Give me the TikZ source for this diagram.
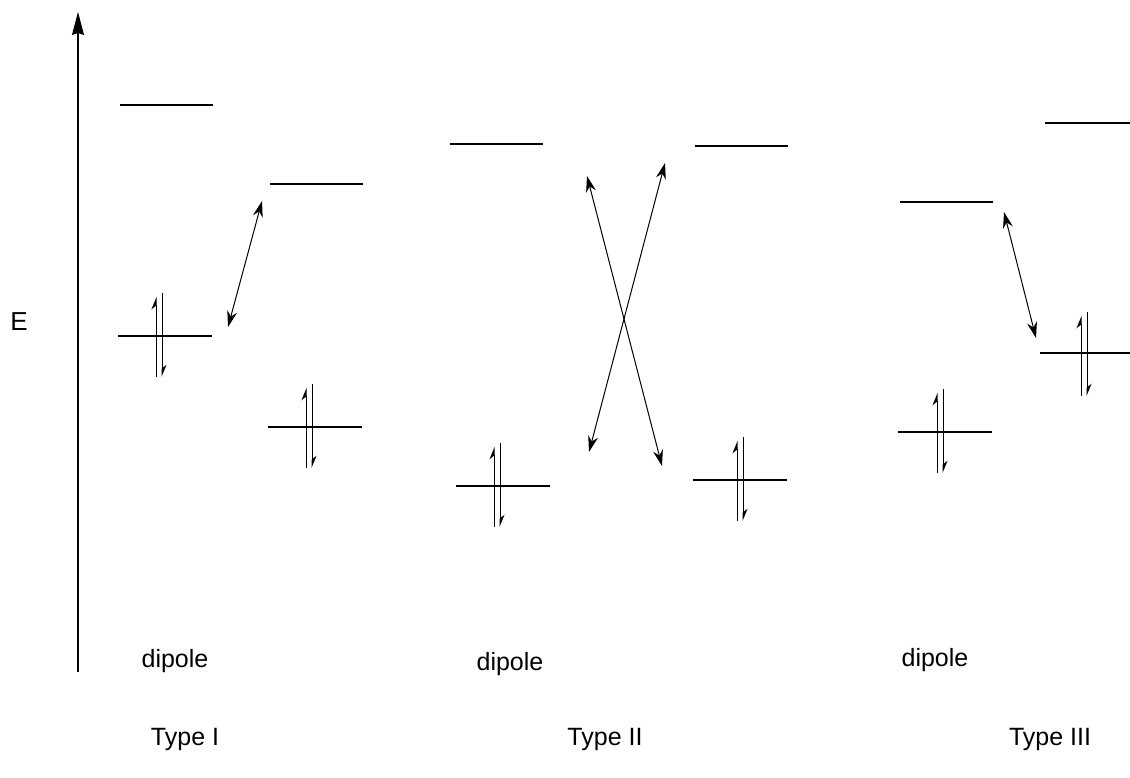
\documentclass[tikz,border=0pt]{standalone}
\usepackage{fontspec}
\setmainfont{Liberation Sans}
\usetikzlibrary{arrows.meta}
\newcommand{\epair}[3]{% name, x of left line, y of level
  \draw[spin] (#2,#3+41) -- (#2,#3-39);
  \draw[spin] (#2+6,#3-43) -- (#2+6,#3+41);
}
\begin{document}
\begin{tikzpicture}[x=1pt,y=-1pt,
  level/.style={line width=1.2pt},
  spin/.style={line width=1pt,-{Stealth[harpoon,length=11pt,width=9pt]}},
  trans/.style={line width=1pt,{Stealth[length=16pt,width=10pt]}-{Stealth[length=16pt,width=10pt]}},
  lbl/.style={font=\fontsize{25}{29}\selectfont,inner sep=0pt},
  axis/.style={line width=1.1pt,-{Stealth[length=23pt,width=12pt,inset=2pt]}}]
\useasboundingbox (0,0) rectangle (1130,778);
% axis
\coordinate (ax0) at (78,672);
\coordinate (ax1) at (78,12);
\draw[axis] (ax0) -- (ax1);
\node[lbl,font=\fontsize{26}{30}\selectfont] (E) at (19,322) {E};
% Type I
\draw[level] (120,105) -- (213,105);
\draw[level] (118,336) -- (212,336);
\epair{a}{156}{336}
\draw[level] (270,184) -- (363,184);
\draw[level] (268,427) -- (362,427);
\epair{b}{306}{427}
\coordinate (t1a) at (228,327);
\coordinate (t1b) at (262,201);
\draw[trans] (t1a) -- (t1b);
% Type II
\draw[level] (450,144) -- (543,144);
\draw[level] (456,486) -- (550,486);
\epair{c}{494}{486}
\draw[level] (695,146) -- (788,146);
\draw[level] (693,480) -- (787,480);
\epair{d}{737}{480}
\coordinate (x1a) at (587,176);
\coordinate (x1b) at (662,466);
\coordinate (x2a) at (665,163);
\coordinate (x2b) at (589,452);
\draw[trans] (x1a) -- (x1b);
\draw[trans] (x2a) -- (x2b);
% Type III
\draw[level] (900,202) -- (993,202);
\draw[level] (898,432) -- (992,432);
\epair{e}{937}{432}
\draw[level] (1045,123) -- (1130,123);
\draw[level] (1040,353) -- (1130,353);
\epair{f}{1081}{355}
\coordinate (t3a) at (1004,212);
\coordinate (t3b) at (1036,338);
\draw[trans] (t3a) -- (t3b);
% labels
\node[lbl] (d1) at (175,661) {dipole};
\node[lbl] (d2) at (510,664) {dipole};
\node[lbl] (d3) at (935,660) {dipole};
\node[lbl] (T1) at (185,739) {Type I};
\node[lbl] (T2) at (605,739) {Type II};
\node[lbl] (T3) at (1050,739) {Type III};
\end{tikzpicture}
\end{document}
